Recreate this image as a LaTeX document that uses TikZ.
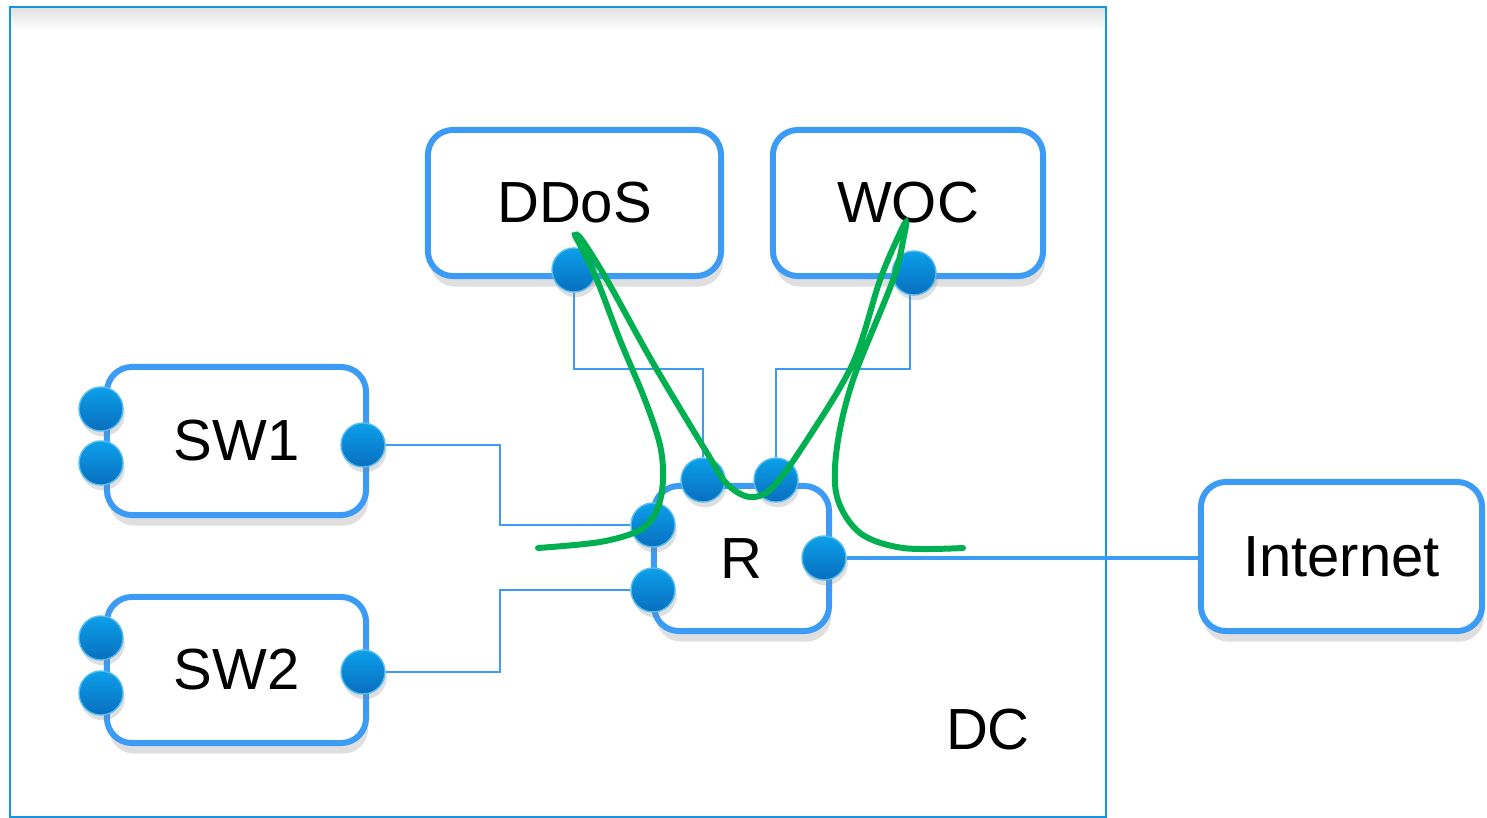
\documentclass[tikz,border=0pt]{standalone}
\usepackage{fontspec}
\setmainfont{Liberation Sans}
\usetikzlibrary{shadows,backgrounds}
\definecolor{boxblue}{RGB}{59,155,245}
\definecolor{dcblue}{RGB}{20,150,220}
\definecolor{portup}{RGB}{12,160,234}
\definecolor{portdown}{RGB}{8,110,190}
\definecolor{pathgreen}{RGB}{0,176,80}

\begin{document}
\begin{tikzpicture}[x=0.01cm,y=-0.01cm,
  box/.style={draw=boxblue,line width=1.7pt,rounded corners=0.25cm,fill=white,
    minimum height=1.46cm,font=\fontsize{16.5}{18}\selectfont,
    drop shadow={shadow xshift=0.6pt,shadow yshift=-3pt,opacity=0.25}},
  port/.style={circle,draw=portup!70!white,line width=0.4pt,inner sep=0pt,
    minimum size=0.44cm,top color=portup,bottom color=portdown,
    drop shadow={shadow xshift=0.5pt,shadow yshift=-1.5pt,opacity=0.25}},
  link/.style={draw=boxblue,line width=0.5pt},
  uplink/.style={draw=boxblue,line width=1.1pt},
  flow/.style={draw=pathgreen,line width=1.7pt,line cap=round}]
\useasboundingbox (0,0) rectangle (1487,818);

% data centre
\shade[top color=black!12,bottom color=white] (11,8) rectangle (1105,30);
\draw[dcblue,line width=0.6pt] (10,7) rectangle (1106,817);
\node[font=\fontsize{16.5}{18}\selectfont] (dc) at (988,730) {DC};

% boxes
\node[box,minimum width=2.93cm] (ddos) at (574.5,203) {DDoS};
\node[box,minimum width=2.70cm] (woc) at (908,203) {WOC};
\node[box,minimum width=2.59cm,minimum height=1.48cm] (sw1) at (236.5,441) {SW1};
\node[box,minimum width=2.59cm] (sw2) at (236.5,670) {SW2};
\node[box,minimum width=1.75cm,minimum height=1.45cm] (r) at (741.5,558.5) {\raisebox{-0.5ex}{R}};
\node[box,minimum width=2.81cm,minimum height=1.49cm] (inet) at (1341.5,556.5) {Internet};

% ports
\node[port] (ddp) at (574,270) {};
\node[port] (wcp) at (914,273) {};
\node[port] (sw1a) at (101,409) {};
\node[port] (sw1b) at (101,463) {};
\node[port] (sw1p) at (363,445) {};
\node[port] (sw2a) at (101,638) {};
\node[port] (sw2b) at (101,693) {};
\node[port] (sw2p) at (363,672) {};
\node[port] (rt1) at (703,480) {};
\node[port] (rt2) at (776,480) {};
\node[port] (rl1) at (653,525) {};
\node[port] (rl2) at (653,590) {};
\node[port] (rr) at (824,558) {};

% links
\begin{pgfonlayer}{background}
\draw[link] (sw1p) -- ++(137,0) |- (rl1);
\draw[link] (sw2p) -- ++(137,0) |- (rl2);
\draw[link] (ddp) -- ++(0,99) -| (rt1);
\draw[link] (wcp.center) ++(-4,0) -- ++(0,96) -| (rt2);
\end{pgfonlayer}
\draw[uplink] (rr) -- (rr -| inet.west);

% traffic path
\draw[flow] plot[smooth,tension=0.55] coordinates {
  (538,548) (600,542) (640,530) (657,510) (663,480) (660,445) (645,400)
  (620,340) (597,280) (580,245) (575,235) (582,240) (607,280) (653,363)
  (707,453) (727,484) (750,497) (773,487) (807,440) (853,363) (880,280)
  (899,235) (906,222) (904,236) (893,280) (853,380) (837,447) (837,497)
  (860,533) (903,548) (963,548)};
\end{tikzpicture}
\end{document}
